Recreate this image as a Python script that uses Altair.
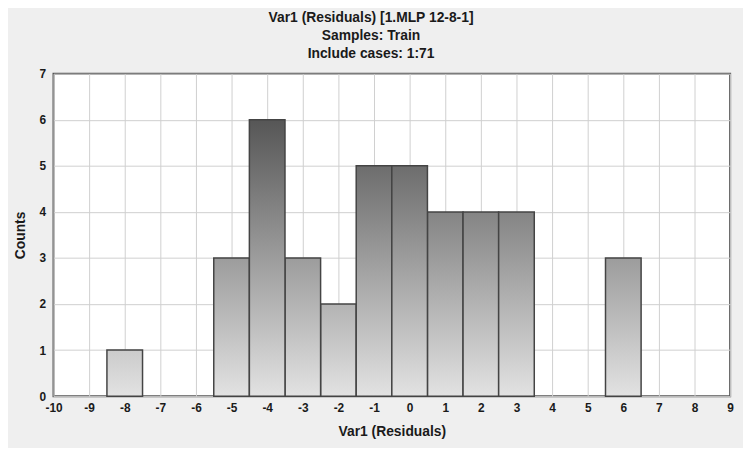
import altair as alt
import pandas as pd

# Data
bin_centers = [-8, -5, -4, -3, -2, -1, 0, 1, 2, 3, 6]
counts = [1, 3, 6, 3, 2, 5, 5, 4, 4, 4, 3]
x_ticks = list(range(-10, 10))
y_ticks = list(range(0, 8))
title_lines = ["Var1 (Residuals) [1.MLP 12-8-1]", "Samples: Train", "Include cases: 1:71"]

df = pd.DataFrame({"center": bin_centers, "count": counts})
df["lo"] = df["center"] - 0.5
df["hi"] = df["center"] + 0.5

FONT = "Liberation Sans"

def gray(h):
    g = int(round(226 - h * (226 - 74) / 6.5))
    return "#{0:02x}{0:02x}{0:02x}".format(g)

x_scale = alt.Scale(domain=[-10, 9], nice=False, zero=False)
y_scale = alt.Scale(domain=[0, 7], nice=False)
x_axis = alt.Axis(values=x_ticks, title="Var1 (Residuals)", grid=True,
                  ticks=False, labelPadding=6, titlePadding=12,
                  labelFlush=False, labelOverlap=False,
                  labelExpr="'' + datum.value")
y_axis = alt.Axis(values=y_ticks, title="Counts", grid=True,
                  ticks=False, labelPadding=8, titlePadding=12,
                  labelExpr="'' + datum.value")

base = alt.Chart(df)

layers = []
for h in sorted(set(counts)):
    grad = alt.Gradient(
        gradient="linear",
        stops=[alt.GradientStop(color=gray(h), offset=0),
               alt.GradientStop(color=gray(0), offset=1)],
        x1=0, x2=0, y1=0, y2=1,
    )
    layer = base.transform_filter(alt.datum["count"] == h).mark_bar(
        color=grad, stroke="#444444", strokeWidth=1.5
    ).encode(
        x=alt.X("lo:Q", scale=x_scale, axis=x_axis),
        x2="hi:Q",
        y=alt.Y("count:Q", scale=y_scale, axis=y_axis),
        y2=alt.datum(0),
    )
    layers.append(layer)

chart = alt.layer(*layers).properties(
    width=684,
    height=326,
    autosize=alt.AutoSizeParams(type="none"),
    padding={"left": 46, "top": 64, "right": 13, "bottom": 50},
    background="#efefef",
    title=alt.TitleParams(
        text=title_lines, fontSize=14, font=FONT, fontWeight="bold",
        color="#1a1a1a", lineHeight=18, offset=7, anchor="middle", dx=-21,
    ),
).configure_view(
    fill="white", stroke="#555555", strokeWidth=2
).configure_axis(
    labelFont=FONT, titleFont=FONT, labelFontSize=12, titleFontSize=14,
    labelFontWeight="bold",
    labelColor="#1a1a1a", titleColor="#1a1a1a", titleFontWeight="bold",
    gridColor="#cfcfcf", gridWidth=1, domain=False,
)

chart.save("out.html", embed_options={"renderer": "svg", "actions": False})
